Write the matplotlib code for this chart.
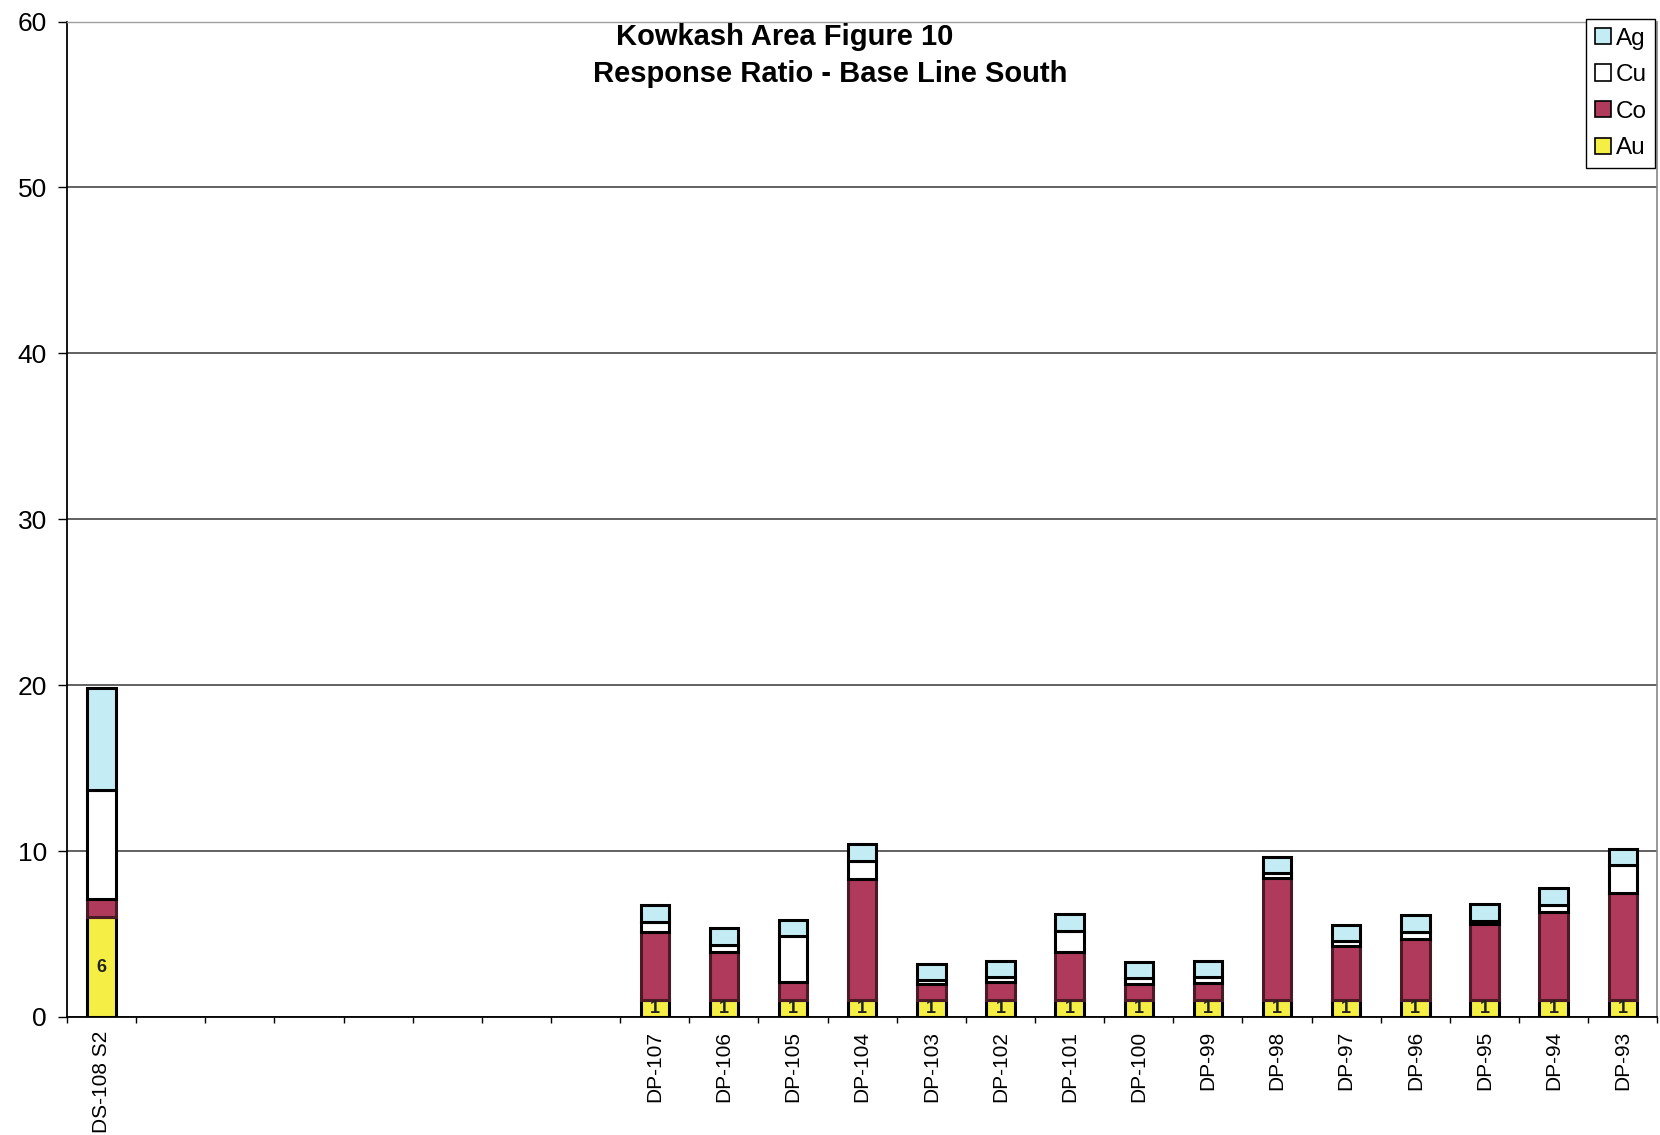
import numpy as np
import matplotlib
matplotlib.use("Agg")
import matplotlib.pyplot as plt
from matplotlib.patches import Patch

plt.rcParams["font.family"] = ["Liberation Sans", "DejaVu Sans"]

nan = np.nan

# Sample sites along the base line (blank slots are empty categories)
categories = ["DS-108 S2", "", "", "", "", "", "", "",
              "DP-107", "DP-106", "DP-105", "DP-104", "DP-103", "DP-102",
              "DP-101", "DP-100", "DP-99", "DP-98", "DP-97", "DP-96",
              "DP-95", "DP-94", "DP-93"]

# Response ratios per element
au = [6, nan, nan, nan, nan, nan, nan, nan,
      1, 1, 1, 1, 1, 1, 1, 1, 1, 1, 1, 1, 1, 1, 1]
co = [1.1, nan, nan, nan, nan, nan, nan, nan,
      4.1, 2.9, 1.1, 7.3, 1.0, 1.1, 2.9, 1.0, 1.05, 7.4, 3.3, 3.7, 4.6, 5.3, 6.5]
cu = [6.6, nan, nan, nan, nan, nan, nan, nan,
      0.6, 0.45, 2.8, 1.1, 0.25, 0.3, 1.3, 0.35, 0.35, 0.3, 0.25, 0.4, 0.2, 0.45, 1.65]
ag = [6.1, nan, nan, nan, nan, nan, nan, nan,
      1.05, 1.0, 0.95, 1.0, 0.95, 0.95, 1.0, 0.95, 1.0, 0.95, 1.0, 1.05, 1.0, 1.0, 1.0]

series = [
    ("Au", au, "#f5ee45", "black"),
    ("Co", co, "#b03a5b", "#4a1a27"),
    ("Cu", cu, "white", "black"),
    ("Ag", ag, "#c4ecf4", "black"),
]

fig = plt.figure(figsize=(16.6, 11.35), dpi=100)
ax = fig.add_axes([0.0404, 0.104, 0.958, 0.877])

n = len(categories)
x = np.arange(n)
bottom = np.zeros(n)
bar_width = 0.41

for name, vals, fc, ec in series:
    v = np.array(vals, dtype=float)
    mask = ~np.isnan(v)
    ax.bar(x[mask], v[mask], bar_width, bottom=bottom[mask], color=fc,
           edgecolor=ec, linewidth=2.2, zorder=3)
    if name == "Au":
        for xi, yb, h in zip(x[mask], bottom[mask], v[mask]):
            ax.text(xi, yb + h / 2, f"{h:.0f}", ha="center", va="center",
                    fontsize=13, fontweight="bold", color="#222222", zorder=4)
    bottom = bottom + np.nan_to_num(v)

# Axes limits and ticks
ax.set_xlim(-0.5, n - 0.5)
ax.set_ylim(0, 60)
ax.set_xticks(np.arange(n + 1) - 0.5)
ax.set_xticklabels([])
ax.set_xticks(x, minor=True)
ax.set_xticklabels(categories, minor=True, rotation=90, fontsize=15)
ax.tick_params(axis="x", which="major", length=4, width=1, direction="out")
ax.tick_params(axis="x", which="minor", length=0, pad=10)

ax.set_yticks(np.arange(0, 61, 10))
ax.tick_params(axis="y", which="major", length=6.5, width=1, pad=8,
               labelsize=19)

ax.yaxis.grid(True, color="#555555", linewidth=1.3)
ax.set_axisbelow(True)

for side in ("left", "bottom"):
    ax.spines[side].set_color("black")
    ax.spines[side].set_linewidth(1.3)
ax.spines["top"].set_color("#a0a0a0")
ax.spines["top"].set_linewidth(1.0)
ax.spines["right"].set_color("#888888")
ax.spines["right"].set_linewidth(1.2)

# Title in two lines
fig.text(785 / 1660, 1 - 37 / 1135, "Kowkash Area Figure 10", ha="center",
         va="center", fontsize=21, fontweight="bold")
fig.text(830 / 1660, 1 - 74 / 1135, "Response Ratio - Base Line South",
         ha="center", va="center", fontsize=21, fontweight="bold")

# Legend, top element first
handles = [Patch(facecolor=fc, edgecolor="black", linewidth=1.2, label=name)
           for name, _, fc, _ in reversed(series)]
leg = fig.legend(handles=handles, loc="upper right",
                 bbox_to_anchor=(1655 / 1660, 1 - 19 / 1135),
                 fontsize=17.5, frameon=True, fancybox=False, framealpha=1,
                 edgecolor="black", borderpad=0.35, labelspacing=0.6,
                 handlelength=0.65, handleheight=0.65, handletextpad=0.2,
                 borderaxespad=0)
leg.get_frame().set_linewidth(1.0)

fig.savefig("out.png", dpi=100, facecolor="white")
